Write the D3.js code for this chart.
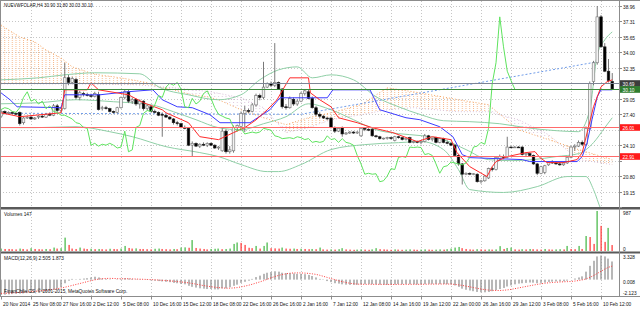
<!DOCTYPE html>
<html><head><meta charset="utf-8">
<script src="https://cdn.jsdelivr.net/npm/d3@7"></script>
<style>
html,body{margin:0;padding:0;background:#fff;overflow:hidden;}
svg{display:block;}
text{font-family:"Liberation Sans",Arial,sans-serif;font-size:6px;fill:#111;}
</style></head><body>
<svg id="c" width="640" height="310"></svg>
<script>
// ---------------- DATA ----------------
const title = "NUEVWFOLAR,H4 30.90 31.80 30.03 30.10";
const volumeLabel = "Volumes 147";
const macdLabel = "MACD(12,26,9) 2.505 1.873";
const copyright = "FinanChile CS, \u00a9 2001-2015, MetaQuotes Software Corp.";

const opens = [27.2,27.7,27.5,27.6,27.5,27.6,26.5,27.0,27.1,26.9,
27.1,27.2,27.1,27.4,27.3,28.3,27.8,28.0,31.3,30.8,
31.1,29.2,29.6,29.5,29.4,29.3,29.5,28.0,28.1,28.0,
27.7,27.6,28.1,29.2,29.8,28.8,29.0,28.5,28.8,28.0,
28.2,27.7,27.6,27.4,27.3,27.1,26.9,26.5,26.4,26.0,
25.9,24.1,24.3,24.0,24.2,24.1,24.3,24.1,23.8,23.5,
25.6,23.4,23.5,26.0,26.1,27.5,27.8,27.7,28.4,29.4,
29.2,30.3,30.7,30.5,30.8,30.1,28.2,28.1,29.0,28.5,
28.8,29.6,29.8,29.1,28.1,27.4,27.2,27.0,27.0,26.0,
25.6,26.0,25.3,25.4,25.5,25.4,25.1,25.9,25.8,25.8,
25.1,25.0,24.8,24.8,24.9,24.6,25.0,24.9,24.7,24.9,
24.4,24.5,24.4,24.5,25.1,24.7,24.9,24.4,24.8,24.4,
24.3,24.1,23.0,22.1,21.0,21.1,21.0,21.0,20.2,20.3,
20.6,21.6,21.5,22.7,22.9,22.8,23.9,23.85,23.9,23.9,
23.1,23.2,23.0,22.1,21.1,21.2,22.0,22.3,22.2,22.1,
22.0,22.2,22.8,23.9,24.0,24.4,24.2,25.9,30.9,32.9,
37.8,34.6,32.0,30.90];
const highs = [27.9,27.8,27.7,27.7,27.6,27.7,27.1,27.2,27.2,27.1,
27.3,27.4,27.5,27.6,28.5,28.5,28.2,32.9,31.6,31.4,
31.3,29.9,29.8,29.7,29.6,29.8,29.8,28.3,28.3,28.1,
27.8,28.2,29.3,30.0,30.0,29.2,29.1,29.0,28.9,28.4,
28.3,27.9,27.7,27.6,27.4,27.2,27.0,26.7,26.5,26.2,
26.0,24.5,24.4,24.3,24.4,24.4,24.4,24.2,24.0,25.9,
25.8,24.0,26.2,26.3,27.7,28.3,28.0,28.6,29.6,29.6,
33.0,30.8,30.9,35.0,30.9,30.2,28.5,29.3,29.2,29.0,
29.8,30.1,30.0,29.3,28.3,27.6,27.3,27.1,27.1,26.1,
26.0,26.1,25.5,25.6,25.6,25.6,26.0,26.0,25.9,26.0,
25.2,25.1,24.9,25.0,25.0,25.1,25.1,25.0,24.9,25.0,
24.6,24.6,24.6,25.3,25.2,24.9,25.0,24.9,24.9,24.6,
24.4,24.2,23.1,22.2,21.2,21.2,21.1,21.1,20.4,20.9,
21.7,21.8,22.9,23.1,23.1,25.0,24.0,24.0,24.0,24.0,
23.3,23.3,23.1,22.2,21.9,22.0,22.4,22.5,22.4,22.3,
22.3,22.9,24.0,24.2,24.6,24.6,26.1,30.9,33.1,38.96,
38.0,35.0,33.3,31.80];
const lows = [27.0,27.4,27.4,27.4,27.3,26.2,26.3,26.9,26.8,26.8,
26.9,27.0,27.0,27.2,27.2,27.6,27.6,27.9,30.5,30.6,
29.0,28.9,29.3,29.3,29.2,29.2,27.8,27.8,27.9,27.6,
27.5,27.5,28.0,29.0,28.6,28.5,28.3,28.0,27.8,27.8,
27.6,27.5,27.2,25.0,27.0,26.8,26.3,26.2,25.9,25.8,
24.0,22.9,23.9,23.8,24.0,23.9,24.0,23.7,23.6,23.4,
23.2,23.2,23.3,25.6,25.9,25.5,27.5,27.6,28.2,28.9,
29.0,30.2,30.3,30.3,30.0,28.0,27.9,28.0,28.3,28.3,
28.7,29.4,29.0,28.0,27.2,27.0,26.9,26.8,25.9,25.4,
25.5,25.0,25.2,25.3,25.3,25.3,25.0,25.6,25.6,25.0,
24.9,24.7,24.7,24.7,24.7,24.5,24.8,24.6,24.6,24.3,
24.3,24.3,24.2,24.4,24.6,24.5,24.3,24.3,24.3,24.2,
24.0,22.9,21.9,19.9,20.9,20.9,20.9,20.1,20.0,20.2,
20.5,21.3,21.4,22.4,22.6,22.7,23.8,23.8,23.8,23.0,
22.9,22.9,22.0,20.9,21.0,21.0,21.9,22.1,22.0,21.9,
21.9,22.1,22.7,23.5,23.9,24.0,24.0,25.7,30.5,32.7,
34.5,31.9,30.8,30.03];
const closes = [27.7,27.5,27.6,27.5,27.4,26.4,27.0,27.1,26.9,27.0,
27.2,27.1,27.4,27.3,28.3,27.8,28.0,31.3,30.8,31.2,
29.2,29.7,29.5,29.4,29.3,29.6,27.9,28.1,28.0,27.7,
27.6,28.1,29.2,29.8,28.8,29.0,28.5,28.8,28.0,28.3,
27.7,27.6,27.3,27.3,27.1,26.9,26.5,26.4,26.0,25.9,
24.1,24.3,24.0,24.2,24.1,24.3,24.1,23.8,23.9,25.6,
23.4,23.6,26.0,26.2,27.5,27.8,27.7,28.4,29.4,29.2,
30.3,30.7,30.5,30.8,30.1,28.2,28.1,29.1,28.5,28.8,
29.6,29.9,29.1,28.1,27.4,27.2,27.0,26.9,26.0,25.6,
25.9,25.3,25.4,25.5,25.4,25.5,25.9,25.8,25.7,25.1,
25.0,24.8,24.85,24.9,24.8,25.0,24.9,24.7,24.8,24.4,
24.5,24.4,24.5,25.1,24.7,24.8,24.4,24.8,24.4,24.3,
24.1,23.0,22.1,21.0,21.1,21.0,21.05,20.2,20.3,20.8,
21.6,21.5,22.8,22.9,22.8,23.9,23.85,23.9,23.85,23.1,
23.2,23.0,22.1,21.1,21.8,21.9,22.3,22.2,22.1,22.0,
22.2,22.8,23.9,24.0,24.4,24.2,25.9,30.7,32.9,37.8,
34.6,32.0,31.0,30.10];
const volumes = [60,50,50,45,40,60,50,40,70,50,
45,40,50,45,85,60,70,330,150,60,
50,85,60,50,55,45,50,45,40,55,
50,45,60,125,75,60,65,50,50,45,
40,55,60,50,45,40,50,45,85,90,
80,270,75,60,50,40,50,55,60,45,
50,60,175,210,200,150,80,70,125,60,
125,210,70,65,60,85,60,55,60,50,
55,50,45,50,45,85,40,35,40,35,
45,70,40,35,30,35,40,35,30,40,
70,45,40,35,30,40,35,30,35,40,
35,30,35,40,35,30,35,40,35,45,
60,85,100,70,50,40,35,45,40,35,
40,35,40,120,50,75,85,40,35,45,
40,50,45,40,35,50,40,35,40,45,
40,125,50,45,125,50,370,345,175,987,
620,225,570,147];
const macdMain = [-2.12,-2.08,-2.04,-2.0,-1.96,-1.93,-1.9,-1.86,-1.82,-1.78,
-1.74,-1.7,-1.65,-1.6,-1.4,-1.25,-1.05,-0.5,-0.15,0.1,
0.05,0.1,0.15,0.2,0.3,0.4,0.3,0.15,0.1,0.05,
0.0,0.05,0.1,0.2,0.15,0.1,0.05,0.05,0.0,-0.05,
-0.1,-0.15,-0.2,-0.25,-0.3,-0.35,-0.45,-0.5,-0.6,-0.65,
-0.85,-1.0,-1.1,-1.2,-1.25,-1.3,-1.3,-1.35,-1.35,-1.2,
-1.2,-1.05,-0.85,-0.7,-0.45,-0.3,-0.15,0.1,0.35,0.55,
0.8,0.95,1.05,1.15,1.1,0.95,0.9,0.9,0.85,0.8,
0.8,0.75,0.65,0.5,0.3,0.1,-0.05,-0.2,-0.35,-0.5,
-0.55,-0.65,-0.7,-0.72,-0.72,-0.7,-0.65,-0.6,-0.6,-0.62,
-0.65,-0.68,-0.7,-0.7,-0.7,-0.65,-0.62,-0.62,-0.6,-0.62,
-0.64,-0.65,-0.65,-0.6,-0.58,-0.58,-0.6,-0.6,-0.6,-0.62,
-0.65,-0.8,-1.0,-1.25,-1.4,-1.5,-1.6,-1.7,-1.75,-1.75,
-1.7,-1.6,-1.45,-1.3,-1.15,-0.95,-0.8,-0.65,-0.55,-0.5,
-0.45,-0.4,-0.42,-0.5,-0.45,-0.4,-0.32,-0.28,-0.25,-0.25,
-0.22,-0.15,0.0,0.15,0.3,0.45,1.1,1.9,2.6,3.2,
3.328,3.2,2.9,2.505];
const macdSignal = [-1.9,-1.88,-1.86,-1.83,-1.8,-1.77,-1.74,-1.7,-1.66,-1.62,
-1.57,-1.52,-1.47,-1.4,-1.33,-1.25,-1.16,-1.05,-0.93,-0.8,
-0.67,-0.54,-0.41,-0.28,-0.15,-0.03,0.07,0.13,0.16,0.17,
0.16,0.14,0.12,0.12,0.12,0.1,0.08,0.06,0.04,0.02,
0.0,-0.03,-0.06,-0.1,-0.13,-0.17,-0.22,-0.27,-0.32,-0.38,
-0.45,-0.53,-0.62,-0.72,-0.82,-0.9,-0.98,-1.05,-1.1,-1.15,
-1.18,-1.18,-1.15,-1.1,-1.0,-0.9,-0.78,-0.64,-0.48,-0.32,
-0.15,0.05,0.25,0.42,0.58,0.7,0.8,0.88,0.92,0.93,
0.92,0.9,0.86,0.8,0.72,0.6,0.45,0.3,0.15,0.0,
-0.15,-0.28,-0.4,-0.5,-0.57,-0.62,-0.64,-0.65,-0.65,-0.65,
-0.65,-0.65,-0.66,-0.66,-0.67,-0.67,-0.66,-0.66,-0.65,-0.65,
-0.65,-0.65,-0.65,-0.64,-0.63,-0.62,-0.62,-0.61,-0.61,-0.61,
-0.62,-0.66,-0.72,-0.8,-0.9,-1.0,-1.1,-1.2,-1.3,-1.38,
-1.44,-1.48,-1.5,-1.5,-1.47,-1.42,-1.35,-1.25,-1.15,-1.05,
-0.95,-0.85,-0.75,-0.66,-0.58,-0.5,-0.44,-0.4,-0.36,-0.33,
-0.3,-0.28,-0.25,-0.2,-0.13,-0.04,0.1,0.3,0.55,0.85,
1.15,1.45,1.7,1.873];
// Ichimoku lines, read at selected bars: [bar, price]
const tenkan = [[0,27.56],[5,27.14],[16,27.56],[17,30.01],[23,30.01],[24,30.76],[26,30.01],[34,29.48],[38,28.63],[43,27.88],[44,27.56],[50,26.5],[53,25.01],[58,24.69],[62,25.44],[65,25.97],[68,26.8],[71,27.88],[73.6,28.95],[77,31.29],[82,31.29],[82.5,29.69],[85,28.95],[88,28.2],[90,27.03],[95,26.5],[99,25.97],[104.5,25.44],[111,24.48],[115,25.01],[120,24.69],[121.6,23.31],[125,21.81],[129.6,20.75],[131,21.81],[132,22.35],[135,22.88],[140,23.31],[142.4,23.41],[143.7,22.77],[145.6,22.24],[150,22.24],[153.6,22.56],[155,23.31],[156.3,25.44],[158,28.2],[160,30.33],[161.6,30.87],[163,31.08]];
const kijun = [[0,29.69],[2.4,28.95],[4.3,28.2],[16,28.1],[17,29.48],[26.4,29.48],[33.6,29.8],[40.5,30.01],[43,28.95],[47,28.2],[51,28.1],[55.7,27.35],[58.4,26.5],[66.4,26.5],[71.7,27.88],[74.4,29.16],[87,29.16],[88.5,30.01],[98.4,30.01],[101,27.88],[108,27.03],[111.7,26.82],[117,26.07],[120.5,25.01],[123,23.09],[125,22.77],[139,22.56],[141,22.35],[153.6,22.35],[155,22.88],[156.3,24.37],[157.6,26.82],[159,29.27],[160,30.01],[163,30.01]];
const senkouA = [[0,36.94],[2,36.4],[5,35.66],[9,35.13],[12,34.27],[16,33.42],[19,32.46],[23,31.93],[26,31.61],[30,31.4],[35,31.08],[39,30.76],[42,30.33],[46,30.01],[51,29.48],[55,29.27],[58,28.95],[64,27.88],[70,27.03],[76,26.29],[82,27.03],[88,27.56],[96,28.42],[103,30.23],[110,29.8],[116,29.38],[122,28.95],[130,28.42],[138,25.75],[146,24.69],[154,23.63],[163,22.56]];
const senkouB = [[0,30.65],[20,30.65],[36,30.55],[46,30.23],[56,29.8],[64,29.16],[70,28.1],[76,25.44],[82,25.97],[88,26.82],[96,27.35],[103,27.88],[110,28.1],[116,27.88],[122,27.67],[130,27.67],[138,26.82],[146,25.22],[154,22.56],[163,22.03]];
// Bollinger bands, read at selected bars
const bbUpper = [[0,31.08],[10,31.29],[17,31.61],[25,31.83],[37,31.72],[42,30.33],[50,29.48],[58,28.95],[64,29.48],[69,31.08],[74,32.14],[79,32.46],[83,31.29],[88,31.61],[94,31.08],[100,29.27],[106,28.2],[112,27.35],[118,26.71],[125,26.61],[133,26.39],[140,25.97],[148,25.65],[154,25.54],[157,27.88],[159,33.74],[161,35.34],[163,36.19]];
const bbMiddle = [[0,28.52],[10,28.63],[20,28.95],[30,28.74],[40,28.42],[46,27.67],[52,26.82],[58,25.97],[64,25.75],[70,26.39],[76,27.14],[82,28.52],[88,27.88],[94,26.82],[100,25.75],[106,25.33],[112,25.12],[118,24.69],[124,23.63],[130,22.56],[136,22.45],[142,22.56],[148,22.88],[154,23.2],[158,24.37],[161,25.97],[163,27.03]];
const bbLower = [[0,25.97],[9,25.97],[20,26.07],[29,25.54],[35,25.01],[44,23.94],[53,23.31],[58,22.88],[64,22.03],[71,21.28],[74,21.28],[80,22.03],[88,23.63],[97,24.16],[106,24.37],[112,24.48],[118,23.63],[122,21.49],[125,19.36],[134,19.05],[143,19.68],[151,20.75],[156,20.75],[158,19.36],[160,17.23],[163,15.64]];
const trendLine = [[0,27.51],[80,27.4],[159,33.0]];
const chikouShift = 26;
const priceTicks = [38.96,37.31,35.65,34.00,32.35,30.70,29.05,27.40,25.75,24.10,22.45,20.80,19.15,17.50];
const priceLines = [{p:30.69,c:"#7d8595",box:"#3c3c3c"},{p:30.10,c:"#3c8c3c",box:"#2f7d2f"},{p:26.01,c:"#ff6b6b",box:"#ff1a1a"},{p:22.91,c:"#ff6b6b",box:"#ff1a1a"}];
const dateLabels = ["20 Nov 2014","25 Nov 08:00","27 Nov 16:00","2 Dec 12:00","5 Dec 08:00","10 Dec 16:00","15 Dec 12:00","18 Dec 08:00","22 Dec 16:00","26 Dec 16:00","2 Jan 16:00","7 Jan 12:00","12 Jan 08:00","14 Jan 16:00","19 Jan 12:00","22 Jan 00:00","26 Jan 16:00","29 Jan 12:00","3 Feb 08:00","5 Feb 16:00","10 Feb 12:00"];
const dateStep = 8;
const volumeTicks = [987, 0];
const macdTicks = [3.328, 0.008, -2.123];

// ---------------- DRAW ----------------
const svg = d3.select("#c");
const W = 640, AX = 619.5;
const mainTop = 1, mainBot = 207;
const x = d3.scaleLinear().domain([0, 160]).range([1, 601]);
const y = d3.scaleLinear().domain([17.50, 38.96]).range([207, 6]);
const yv = d3.scaleLinear().domain([0, 987]).range([251, 211]);
const ym = d3.scaleLinear().domain([-2.123, 3.328]).range([295, 255.5]);
const n = closes.length;
const bars = d3.range(n).map(i => ({i, o:opens[i], h:highs[i], l:lows[i], c:closes[i], v:volumes[i], m:macdMain[i], s:macdSignal[i]}));

function txt(g, tx, ty, s, sx, color){
  const t = g.append("text").attr("transform",`translate(${tx},${ty}) scale(${sx||0.8},1)`).text(s);
  if (color) t.style("fill", color);
  return t;
}

const defs = svg.append("defs");
defs.append("clipPath").attr("id","cm").append("rect").attr("x",0).attr("y",mainTop).attr("width",AX).attr("height",mainBot-mainTop);
function hatch(id, color, h){
  const p = defs.append("pattern").attr("id",id).attr("patternUnits","userSpaceOnUse")
    .attr("x",x(0)-0.5).attr("y",0).attr("width",x(1)-x(0)).attr("height",h);
  p.append("rect").attr("x",0).attr("y",0).attr("width",1).attr("height",1).attr("fill",color);
}
hatch("hSandy","#f6b98c",2);
hatch("hThistle","#dfc8df",3);

// grid
const grid = svg.append("g").attr("stroke","#c6c6c6").attr("stroke-dasharray","1,2").attr("stroke-width",1);
dateLabels.forEach((d,k)=>{
  const xx = Math.round(x(k*dateStep))+0.5;
  if (k>0) grid.append("line").attr("x1",xx).attr("x2",xx).attr("y1",mainTop).attr("y2",296);
});
priceTicks.forEach(p=>{
  const yy = Math.round(y(p))+0.5;
  grid.append("line").attr("x1",0).attr("x2",AX).attr("y1",yy).attr("y2",yy);
});

const main = svg.append("g").attr("clip-path","url(#cm)");

// cloud hatch between senkou spans
const pa = d3.scaleLinear().domain(senkouA.map(d=>d[0])).range(senkouA.map(d=>d[1]));
const pb = d3.scaleLinear().domain(senkouB.map(d=>d[0])).range(senkouB.map(d=>d[1]));
const knots = Array.from(new Set(senkouA.map(d=>d[0]).concat(senkouB.map(d=>d[0])))).sort((a,b)=>a-b);
for (let k=0;k<knots.length-1;k++){
  const a0=knots[k], a1=knots[k+1], mid=(a0+a1)/2;
  const up = pa(mid) >= pb(mid);
  const pts = [[x(a0),y(pa(a0))],[x(a1),y(pa(a1))],[x(a1),y(pb(a1))],[x(a0),y(pb(a0))]];
  main.append("path").attr("d","M"+pts.join("L")+"Z").attr("fill", up?"url(#hSandy)":"url(#hThistle)");
}
const sline = d3.line().x(d=>x(d[0])).y(d=>y(d[1]));
main.append("path").datum(senkouA).attr("d",sline).attr("fill","none").attr("stroke","#f4a460").attr("stroke-dasharray","1,2").attr("stroke-width",1);
main.append("path").datum(senkouB).attr("d",sline).attr("fill","none").attr("stroke","#d8bfd8").attr("stroke-dasharray","1,2").attr("stroke-width",1);

// bollinger
const smooth = d3.line().curve(d3.curveMonotoneX).x(d=>x(d[0])).y(d=>y(d[1]));
[bbUpper,bbMiddle,bbLower].forEach(b=>{
  main.append("path").datum(b).attr("d",smooth).attr("fill","none").attr("stroke","#8fcfa6").attr("stroke-width",1);
});

// trend line
main.append("path").datum(trendLine).attr("d",sline).attr("fill","none").attr("stroke","#6f9be8").attr("stroke-dasharray","2,2").attr("stroke-width",1);

// horizontal price lines
priceLines.forEach(pl=>{
  const yy = Math.round(y(pl.p))+0.5;
  svg.append("line").attr("x1",0).attr("x2",AX).attr("y1",yy).attr("y2",yy).attr("stroke",pl.c).attr("stroke-width",1);
});

// candles
const bw = 2.6;
const cg = main.append("g");
bars.forEach(b=>{
  const cx = x(b.i);
  cg.append("line").attr("x1",cx).attr("x2",cx).attr("y1",y(b.h)).attr("y2",y(b.l)).attr("stroke","#6a6a6a").attr("stroke-width",0.9);
  const top = y(Math.max(b.o,b.c)), bot = y(Math.min(b.o,b.c));
  cg.append("rect").attr("x",cx-bw/2).attr("y",top).attr("width",bw).attr("height",Math.max(0.8,bot-top))
    .attr("fill", b.c>=b.o ? "#f2f2f2" : "#000").attr("stroke", b.c>=b.o ? "#707070":"#202020").attr("stroke-width",0.6);
});

// ichimoku lines
const lin = d3.line().x(d=>x(d[0])).y(d=>y(d[1]));
main.append("path").datum(kijun).attr("d",lin).attr("fill","none").attr("stroke","#3b3bff").attr("stroke-width",1);
main.append("path").datum(tenkan).attr("d",lin).attr("fill","none").attr("stroke","#ff2a2a").attr("stroke-width",1);
const chik = d3.line().x(d=>x(d.i - chikouShift)).y(d=>y(d.c));
main.append("path").datum(bars.filter(b=>b.i>=chikouShift)).attr("d",chik).attr("fill","none").attr("stroke","#5ee35e").attr("stroke-width",1);

// volumes
const vg = svg.append("g");
bars.forEach((b,i)=>{
  const up = i===0 || b.v > volumes[i-1];
  vg.append("rect").attr("x",Math.round(x(b.i))-0.5).attr("y",yv(b.v)).attr("width",1.2).attr("height",yv(0)-yv(b.v))
    .attr("fill", up ? "#3fb53f" : "#ff3030");
});

// macd
const mg = svg.append("g");
bars.forEach(b=>{
  const y0 = ym(0), y1 = ym(b.m);
  mg.append("rect").attr("x",Math.round(x(b.i))-0.6).attr("y",Math.min(y0,y1)).attr("width",1.2).attr("height",Math.abs(y1-y0))
    .attr("fill","#8a8a8a");
});
mg.append("path").datum(bars).attr("d",d3.line().x(d=>x(d.i)).y(d=>ym(d.s))).attr("fill","none").attr("stroke","#ff3b3b").attr("stroke-width",1).attr("stroke-dasharray","1,1.5");

// frames / separators
svg.append("line").attr("x1",0).attr("x2",W).attr("y1",0.5).attr("y2",0.5).attr("stroke","#8c8c8c");
svg.append("rect").attr("x",0).attr("y",207).attr("width",W).attr("height",2.5).attr("fill","#5a5a5a");
svg.append("rect").attr("x",0).attr("y",251.5).attr("width",W).attr("height",2).attr("fill","#5a5a5a");
svg.append("line").attr("x1",0).attr("x2",W).attr("y1",296.5).attr("y2",296.5).attr("stroke","#8c8c8c");
svg.append("line").attr("x1",0.5).attr("x2",0.5).attr("y1",0).attr("y2",296.5).attr("stroke","#8c8c8c");
svg.append("line").attr("x1",AX).attr("x2",AX).attr("y1",0).attr("y2",296.5).attr("stroke","#8c8c8c");

// right axis labels (labels covered by the price boxes are not shown, as in the reference)
const ax = svg.append("g");
priceTicks.forEach(p=>{
  const yy = Math.round(y(p))+0.5;
  ax.append("line").attr("x1",AX).attr("x2",AX+2.5).attr("y1",yy).attr("y2",yy).attr("stroke","#8c8c8c");
  const hidden = priceLines.some(pl=>Math.abs(y(pl.p)-y(p))<6) || y(p) > 203;
  if (!hidden) txt(ax, AX+3.5, yy+2.2, p.toFixed(2));
});
priceLines.forEach(pl=>{
  const yy = Math.round(y(pl.p))+0.5;
  ax.append("rect").attr("x",AX+0.5).attr("y",yy-3.3).attr("width",W-AX).attr("height",6.6).attr("fill",pl.box);
  txt(ax, AX+3, yy+2.2, pl.p.toFixed(2), 0.8, "#fff");
});
txt(ax, AX+3.5, yv(987)+3.5, String(volumeTicks[0]));
txt(ax, AX+3.5, yv(0)-0.5, String(volumeTicks[1]));
txt(ax, AX+3.5, 259, macdTicks[0].toFixed(3));
txt(ax, AX+3.5, 283.5, macdTicks[1].toFixed(3));
txt(ax, AX+3.5, 294.5, macdTicks[2].toFixed(3));

// date axis
dateLabels.forEach((d,k)=>{
  const xx = Math.round(x(k*dateStep))+0.5;
  svg.append("line").attr("x1",xx).attr("x2",xx).attr("y1",296.5).attr("y2",299.5).attr("stroke","#8c8c8c");
  txt(svg, xx+1.5, 305.5, d);
});

// panel titles
txt(svg, 4, 7, title, 0.75);
txt(svg, 4, 216, volumeLabel);
txt(svg, 4, 260, macdLabel);
txt(svg, 4, 292.5, copyright);
</script>
</body></html>
